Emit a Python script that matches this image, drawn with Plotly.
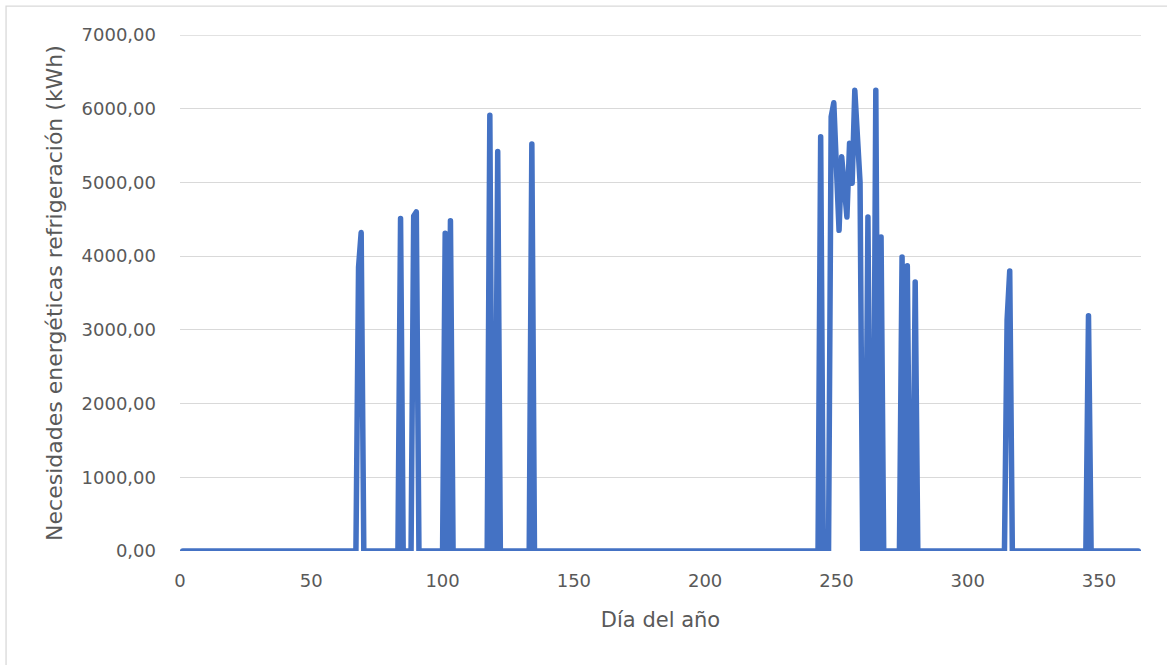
import plotly.graph_objects as go

# Días del año con demanda de refrigeración y su valor (kWh); el resto del año es 0
dias_con_demanda = [68, 69, 84, 89, 90, 101, 103, 118, 121, 134,
                    244, 248, 249, 250, 251, 252, 253, 254, 255, 256, 257, 258, 259,
                    262, 265, 267, 275, 277, 280, 315, 316, 346]
demanda_kwh = [3850, 4320, 4510, 4545, 4600, 4310, 4480, 5910, 5420, 5520,
               5620, 5890, 6080, 5200, 4350, 5350, 4950, 4530, 5530, 4990, 6250, 5600, 5000,
               4530, 6250, 4260, 3990, 3870, 3650, 3130, 3800, 3190]

dias = list(range(1, 366))
valores_dia = dict(zip(dias_con_demanda, demanda_kwh))
necesidades = [valores_dia.get(d, 0) for d in dias]

x_ticks = [0, 50, 100, 150, 200, 250, 300, 350]
y_ticks = [0, 1000, 2000, 3000, 4000, 5000, 6000, 7000]

FONT = "DejaVu Sans"
GRIS_TEXTO = "#595959"
GRIS_REJILLA = "#d9d9d9"

fig = go.Figure()
fig.add_trace(go.Scatter(
    x=dias, y=necesidades, mode="lines",
    line=dict(color="#4472C4", width=5.5),
    hoverinfo="x+y", showlegend=False,
))

fig.update_layout(
    width=1167, height=665,
    margin=dict(l=180, r=26, t=35, b=114),
    paper_bgcolor="white", plot_bgcolor="white",
    separators=",.",
    font=dict(family=FONT, size=18, color=GRIS_TEXTO),
    xaxis=dict(
        range=[0, 366], tickvals=x_ticks, showgrid=False, zeroline=False,
        showline=False, ticks="", ticklabelstandoff=17,
        tickfont=dict(size=18, color=GRIS_TEXTO),
        title=dict(text="Día del año", font=dict(size=21, color=GRIS_TEXTO), standoff=22),
    ),
    yaxis=dict(
        range=[0, 7000], tickvals=y_ticks, tickformat=".2f",
        showgrid=True, gridcolor=GRIS_REJILLA, gridwidth=1.3, zeroline=False,
        showline=False, ticks="", ticklabelstandoff=23,
        tickfont=dict(size=18, color=GRIS_TEXTO),
        title=dict(text="Necesidades energéticas refrigeración (kWh)",
                   font=dict(size=22, color=GRIS_TEXTO), standoff=12),
    ),
    shapes=[
        dict(type="rect", xref="paper", yref="paper",
             x0=-0.181, x1=1.04, y0=-0.25, y1=1.056,
             line=dict(color=GRIS_REJILLA, width=1.3), fillcolor="rgba(0,0,0,0)",
             layer="below"),
        dict(type="line", xref="paper", yref="y", x0=0, x1=1, y0=7000, y1=7000,
             line=dict(color=GRIS_REJILLA, width=1.3), layer="below"),
    ],
)

# Uniones y extremos redondeados en la línea de la serie
redondear = """
var gd = document.getElementById('{plot_id}');
gd.querySelectorAll('.scatterlayer .js-line').forEach(function (p) {
    p.style.strokeLinejoin = 'round';
    p.style.strokeLinecap = 'round';
});
"""

fig.write_html("out.html", post_script=redondear)
